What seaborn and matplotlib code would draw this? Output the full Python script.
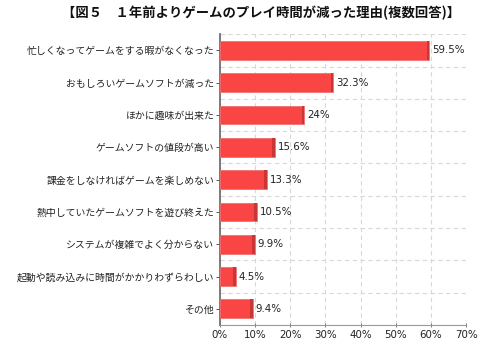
import matplotlib
matplotlib.use("Agg")
import matplotlib.pyplot as plt
import numpy as np
import pandas as pd
import seaborn as sns

reasons = [
    "忙しくなってゲームをする暇がなくなった",
    "おもしろいゲームソフトが減った",
    "ほかに趣味が出来た",
    "ゲームソフトの値段が高い",
    "課金をしなければゲームを楽しめない",
    "熱中していたゲームソフトを遊び終えた",
    "システムが複雑でよく分からない",
    "起動や読み込みに時間がかかりわずらわしい",
    "その他",
]
shares = [59.5, 32.3, 24.0, 15.6, 13.3, 10.5, 9.9, 4.5, 9.4]
value_labels = ["59.5%", "32.3%", "24%", "15.6%", "13.3%", "10.5%", "9.9%", "4.5%", "9.4%"]
x_ticks = [0, 10, 20, 30, 40, 50, 60, 70]

sns.set_theme(style="white")
plt.rcParams["font.family"] = ["Noto Sans CJK JP", "DejaVu Sans"]

df = pd.DataFrame({"reason": reasons, "share": shares})

fig = plt.figure(figsize=(4.8, 3.47), dpi=100)
ax = fig.add_axes([0.458, 0.0634, 0.513, 0.838])

sns.barplot(data=df, x="share", y="reason", orient="h", color="#FA4545",
            width=0.58, saturation=1, edgecolor="#F07070", linewidth=0.6, ax=ax, zorder=3)

# darker right end for a slight depth effect
for patch in ax.patches:
    w = patch.get_width()
    y0 = patch.get_y()
    h = patch.get_height()
    ax.add_patch(plt.Rectangle((w - 0.7, y0), 0.7, h, color="#C83636", lw=0, zorder=4))

for i, (v, lab) in enumerate(zip(shares, value_labels)):
    ax.text(v + 0.8, i, lab, va="center", ha="left", fontsize=7.4,
            family=["DejaVu Sans"], color="#222222", zorder=5)

ax.set_xlim(0, 70)
ax.set_ylim(len(reasons) - 0.5, -0.5)
ax.set_xticks(x_ticks)
ax.set_xticklabels([f"{t}%" for t in x_ticks], fontsize=7.4, family=["DejaVu Sans"], color="#222222")
ax.set_yticks(range(len(reasons)))
ax.set_yticklabels(reasons, fontsize=7.1, color="#222222")
ax.set_yticks(np.arange(-0.5, len(reasons), 1.0), minor=True)
ax.set_xlabel("")
ax.set_ylabel("")

ax.grid(False)
ax.xaxis.grid(True, which="major", linestyle=(0, (4, 3)), color="#D8D8D8", linewidth=0.8, zorder=0)
ax.yaxis.grid(True, which="minor", linestyle=(0, (4, 3)), color="#D8D8D8", linewidth=0.8, zorder=0)
ax.set_axisbelow(True)

for side in ["top", "right"]:
    ax.spines[side].set_visible(False)
ax.spines["left"].set_color("#707070")
ax.spines["left"].set_linewidth(1.3)
ax.spines["bottom"].set_color("#9A9A9A")
ax.spines["bottom"].set_linewidth(0.8)

ax.tick_params(axis="y", which="major", length=3, width=0.7, color="#555555", pad=1, left=True)
ax.tick_params(axis="y", which="minor", length=0)
ax.tick_params(axis="x", which="major", length=3, width=0.7, color="#777777", direction="inout", pad=2, bottom=True)

fig.text(0.543, 0.962, "【図５　１年前よりゲームのプレイ時間が減った理由(複数回答)】",
         ha="center", va="center", fontsize=9.6, fontweight="bold", color="#111111")

fig.savefig("out.png", dpi=100, facecolor="white")
